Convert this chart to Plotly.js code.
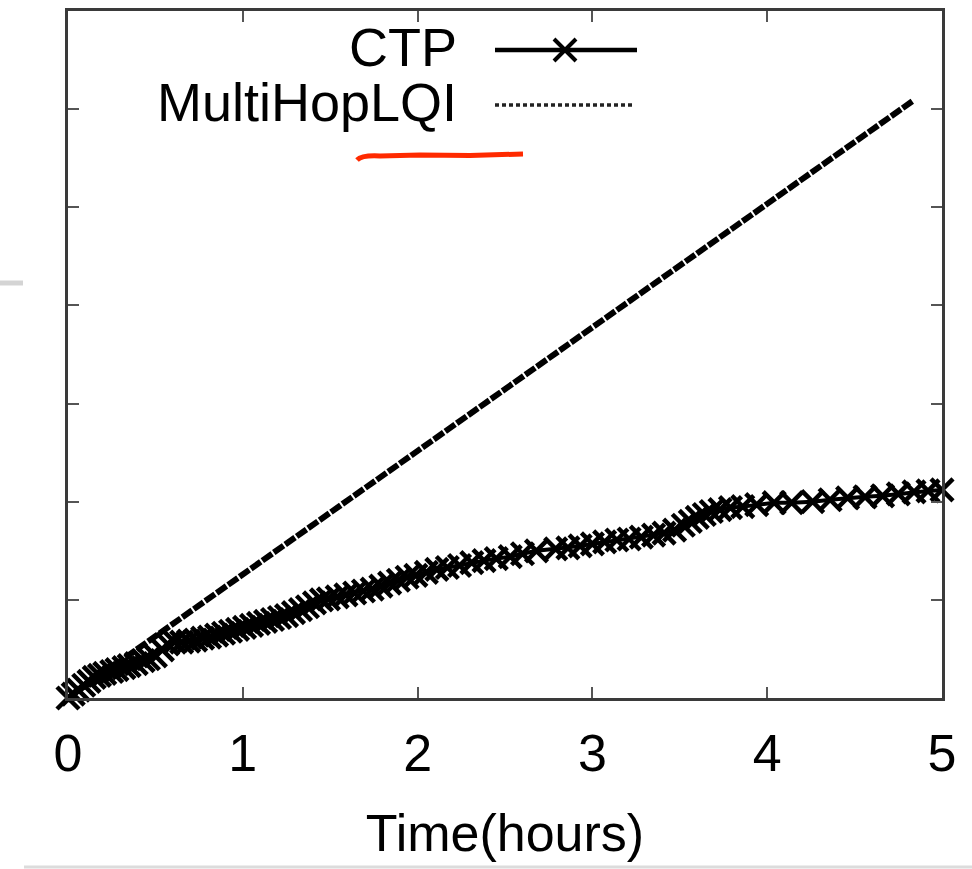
<!DOCTYPE html>
<html>
<head>
<meta charset="utf-8">
<script src="https://cdn.plot.ly/plotly-3.0.1.min.js"></script>
<style>
html,body{margin:0;padding:0;background:#fff;}
#chart{width:972px;height:869px;}
</style>
</head>
<body>
<div id="chart"></div>
<script>
// ---- data ----
const seriesNames = ["CTP", "MultiHopLQI"];
const xTickVals = [0, 1, 2, 3, 4, 5];
const xTickText = ["0", "1", "2", "3", "4", "5"];
const xTitle = "Time(hours)";

const ctpX = [0, 0.03, 0.06, 0.09, 0.12, 0.15, 0.18, 0.21, 0.25, 0.28,
  0.32, 0.35, 0.39, 0.43, 0.46, 0.5, 0.54, 0.57, 0.61, 0.65,
  0.69, 0.73, 0.77, 0.81, 0.85, 0.89, 0.93, 0.97, 1.01, 1.05,
  1.09, 1.13, 1.17, 1.21, 1.25, 1.29, 1.33, 1.37, 1.41, 1.45,
  1.49, 1.54, 1.59, 1.64, 1.69, 1.74, 1.79, 1.84, 1.89, 1.94,
  1.99, 2.05, 2.11, 2.17, 2.24, 2.31, 2.38, 2.45, 2.53, 2.6,
  2.68, 2.79, 2.86, 2.93, 3.0, 3.07, 3.14, 3.21, 3.28, 3.35,
  3.41, 3.47, 3.52, 3.56, 3.6, 3.64, 3.68, 3.73, 3.79, 3.86,
  3.94, 4.04, 4.14, 4.26, 4.36, 4.46, 4.56, 4.66, 4.75, 4.84,
  4.92, 5.0];
const ctpY = [0, 0.04, 0.08, 0.13, 0.17, 0.21, 0.23, 0.25, 0.27, 0.29,
  0.31, 0.33, 0.35, 0.38, 0.40, 0.43, 0.49, 0.55, 0.57, 0.57,
  0.58, 0.59, 0.61, 0.62, 0.64, 0.66, 0.68, 0.70, 0.72, 0.74,
  0.76, 0.78, 0.80, 0.82, 0.84, 0.87, 0.90, 0.93, 0.97, 1.00,
  1.01, 1.03, 1.05, 1.07, 1.09, 1.11, 1.14, 1.17, 1.20, 1.23,
  1.25, 1.28, 1.31, 1.33, 1.35, 1.38, 1.40, 1.42, 1.44, 1.47,
  1.50, 1.52, 1.53, 1.55, 1.57, 1.59, 1.61, 1.62, 1.64, 1.66,
  1.68, 1.71, 1.76, 1.80, 1.84, 1.87, 1.90, 1.92, 1.94, 1.95,
  1.97, 1.99, 1.99, 2.00, 2.02, 2.04, 2.05, 2.06, 2.08, 2.10,
  2.11, 2.12];

const lqiX = [0, 0.5, 1, 1.5, 2, 2.5, 3, 3.5, 4, 4.5, 4.83];
const lqiY = [0, 0.63, 1.26, 1.89, 2.52, 3.15, 3.78, 4.41, 5.04, 5.67, 6.08];

// ---- layout helpers (pixel -> paper) ----
const L = 68, R = 942, T = 11, B = 698;
const W = R - L, H = B - T;
const px = v => (v - L) / W;
const py = v => (B - v) / H;

const FONT = "Liberation Sans, Arial, Helvetica, sans-serif";

const traces = [
  {
    x: lqiX, y: lqiY, name: seriesNames[1], type: "scatter", mode: "lines",
    line: {color: "#000", width: 6, dash: "12px,2px"},
    cliponaxis: false, showlegend: false
  },
  {
    x: ctpX, y: ctpY, name: seriesNames[0], type: "scatter", mode: "lines+markers",
    line: {color: "#000", width: 4},
    marker: {symbol: "x-thin", size: 22, color: "#000", line: {color: "#000", width: 4.5}},
    cliponaxis: false, showlegend: false
  }
];

const mx = 565, my = 50, mh = 11;
const shapes = [
  // legend samples
  {type: "line", xref: "paper", yref: "paper", x0: px(495), x1: px(637), y0: py(50), y1: py(50),
   line: {color: "#000", width: 4.5}},
  {type: "path", xref: "paper", yref: "paper",
   path: `M${px(mx-mh)},${py(my-mh)} L${px(mx+mh)},${py(my+mh)} M${px(mx-mh)},${py(my+mh)} L${px(mx+mh)},${py(my-mh)}`,
   line: {color: "#000", width: 4}},
  {type: "line", xref: "paper", yref: "paper", x0: px(495), x1: px(633), y0: py(105), y1: py(105),
   line: {color: "#222", width: 3.5, dash: "4px,3px"}},
  // red hand-drawn underline
  {type: "path", xref: "paper", yref: "paper",
   path: `M${px(357)},${py(160)} Q${px(362)},${py(155)} ${px(380)},${py(156)} L${px(420)},${py(155)} L${px(470)},${py(155.5)} L${px(523)},${py(154)}`,
   line: {color: "#ff2a00", width: 5}},
  // grey page artefacts
  {type: "line", xref: "paper", yref: "paper", x0: px(0), x1: px(23), y0: py(283), y1: py(283),
   line: {color: "#d4d4d4", width: 5}},
  {type: "line", xref: "paper", yref: "paper", x0: px(24), x1: px(972), y0: py(867), y1: py(867),
   line: {color: "#dcdcdc", width: 3}}
];

const annotations = [
  {xref: "paper", yref: "paper", x: px(459), y: py(47), xanchor: "right", yanchor: "middle",
   text: seriesNames[0], showarrow: false, font: {family: FONT, size: 54, color: "#000"}},
  {xref: "paper", yref: "paper", x: px(459), y: py(102), xanchor: "right", yanchor: "middle",
   text: seriesNames[1], showarrow: false, font: {family: FONT, size: 54, color: "#000"}}
];

const layout = {
  width: 972, height: 869,
  margin: {l: L, r: 972 - R, t: T, b: 869 - B, pad: 0},
  paper_bgcolor: "#fff", plot_bgcolor: "#fff",
  showlegend: false,
  font: {family: FONT, size: 52, color: "#000"},
  xaxis: {
    range: [0, 5], tickvals: xTickVals, ticktext: xTickText,
    ticks: "inside", ticklen: 11, tickwidth: 2, tickcolor: "#555",
    showline: true, linecolor: "#3a3a3a", linewidth: 3, mirror: "allticks",
    showgrid: false, zeroline: false,
    tickfont: {family: FONT, size: 52, color: "#000"},
    ticklabelstandoff: 8,
    title: {text: xTitle, font: {family: FONT, size: 52, color: "#000"}, standoff: 34},
    automargin: false
  },
  yaxis: {
    range: [0, 7], dtick: 1, tick0: 0,
    ticks: "inside", ticklen: 11, tickwidth: 2, tickcolor: "#555",
    showline: true, linecolor: "#3a3a3a", linewidth: 3, mirror: "allticks",
    showgrid: false, zeroline: false, showticklabels: false,
    automargin: false
  },
  shapes: shapes,
  annotations: annotations
};

Plotly.newPlot("chart", traces, layout, {displayModeBar: false, staticPlot: true});
</script>
</body>
</html>
